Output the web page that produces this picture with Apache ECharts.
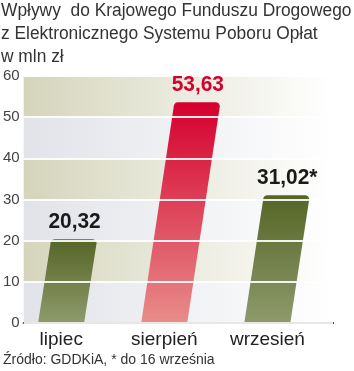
<!DOCTYPE html>
<html>
<head>
<meta charset="utf-8">
<script src="https://cdn.jsdelivr.net/npm/echarts@6/dist/echarts.min.js"></script>
<style>
  html, body { margin: 0; padding: 0; background: #fff; }
  #main { width: 354px; height: 371px; }
</style>
</head>
<body>
<div id="main"></div>
<script>
// dane
const months = ['lipiec', 'sierpień', 'wrzesień'];
const values = [20.32, 53.63, 31.02];
const notes = ['', '', '*'];
const yTicks = [0, 10, 20, 30, 40, 50, 60];
const highlighted = 'sierpień';

const FONT = '"Liberation Sans", Arial, sans-serif';
const slant = 0.147;   // przesunięcie góry słupka względem dołu
const barW = 46;
const shiftX = -14;    // słupki i podpisy lekko w lewo od środka kategorii

const olive = new echarts.graphic.LinearGradient(0, 0, 0, 1, [
  {offset: 0, color: '#566526'},
  {offset: 1, color: '#8e9a6c'}
]);
const red = new echarts.graphic.LinearGradient(0, 0, 0, 1, [
  {offset: 0, color: '#d5002e'},
  {offset: 1, color: '#e88c8a'}
]);
const band = (c) => new echarts.graphic.LinearGradient(0, 0, 1, 0, [
  {offset: 0, color: c},
  {offset: 1, color: '#ffffff'}
]);

function roundedTop(bx, by, tx, ty, r) {
  const pts = [[bx - barW / 2, by]];
  const corner = (cx, cy, a0, a1) => {
    for (let k = 0; k <= 4; k++) {
      const a = a0 + (a1 - a0) * k / 4;
      pts.push([cx + r * Math.cos(a), cy + r * Math.sin(a)]);
    }
  };
  corner(tx - barW / 2 + r, ty + r, Math.PI, Math.PI * 1.5);
  corner(tx + barW / 2 - r, ty + r, Math.PI * 1.5, Math.PI * 2);
  pts.push([bx + barW / 2, by]);
  return pts;
}

// wspólne położenie słupka
function barGeom(api) {
  const i = api.value(0);
  const v = api.value(1);
  const base = api.coord([i, 0]);
  const top = api.coord([i, v]);
  const bx = base[0] + shiftX;
  const tx = bx + (base[1] - top[1]) * slant;
  return {i, v, bx, by: base[1], tx, ty: top[1]};
}

const data = values.map((v, i) => [i, v]);

const chart = echarts.init(document.getElementById('main'));
chart.setOption({
  animation: false,
  graphic: [
    {
      type: 'text',
      x: 1,
      y: 0,
      scaleX: 0.965,
      style: {
        text: 'Wpływy  do Krajowego Funduszu Drogowego\nz Elektronicznego Systemu Poboru Opłat\nw mln zł',
        font: '18px ' + FONT,
        lineHeight: 23,
        fill: '#333'
      }
    },
    {
      type: 'text',
      x: 3,
      y: 353,
      style: {
        text: 'Źródło: GDDKiA, * do 16 września',
        font: '14px ' + FONT,
        fill: '#333'
      }
    }
  ],
  grid: {left: 20, right: 21, top: 76, bottom: 48},
  xAxis: {
    type: 'category',
    data: months,
    axisTick: {show: false},
    axisLine: {lineStyle: {color: '#111', width: 2}},
    axisLabel: {
      fontFamily: FONT,
      fontSize: 19,
      color: '#222',
      margin: 7,
      padding: [0, -shiftX * 2, 0, 0]
    }
  },
  yAxis: [
    {
      type: 'value',
      min: yTicks[0],
      max: yTicks[yTicks.length - 1],
      interval: 10,
      axisLine: {show: false},
      axisTick: {show: false},
      axisLabel: {fontFamily: FONT, fontSize: 15, color: '#444', margin: 4},
      splitLine: {show: false},
      splitArea: {
        show: true,
        areaStyle: {color: [band('#e1e3e9'), band('#d5d5bc')]}
      }
    },
    {
      type: 'value',
      position: 'left',
      min: yTicks[0],
      max: yTicks[yTicks.length - 1],
      interval: 10,
      z: 10,
      axisLine: {show: false},
      axisTick: {show: false},
      axisLabel: {show: false},
      splitLine: {lineStyle: {color: 'rgba(255,255,255,0.9)', width: 2}}
    }
  ],
  series: [
    {
      type: 'custom',
      data: data,
      renderItem: (params, api) => {
        const g = barGeom(api);
        return {
          type: 'polygon',
          shape: {points: roundedTop(g.bx, g.by - 1, g.tx, g.ty, 4)},
          style: {fill: months[g.i] === highlighted ? red : olive}
        };
      }
    },
    {
      // wartości nad słupkami, ponad liniami siatki
      type: 'custom',
      z: 20,
      data: data,
      renderItem: (params, api) => {
        const g = barGeom(api);
        return {
          type: 'text',
          x: g.tx + 1,
          y: g.ty - 6,
          scaleX: 0.95,
          style: {
            text: g.v.toFixed(2).replace('.', ',') + notes[g.i],
            font: 'bold 22px ' + FONT,
            fill: months[g.i] === highlighted ? '#d5002e' : '#1a1a1a',
            align: 'center',
            verticalAlign: 'bottom'
          }
        };
      }
    }
  ]
});
</script>
</body>
</html>
